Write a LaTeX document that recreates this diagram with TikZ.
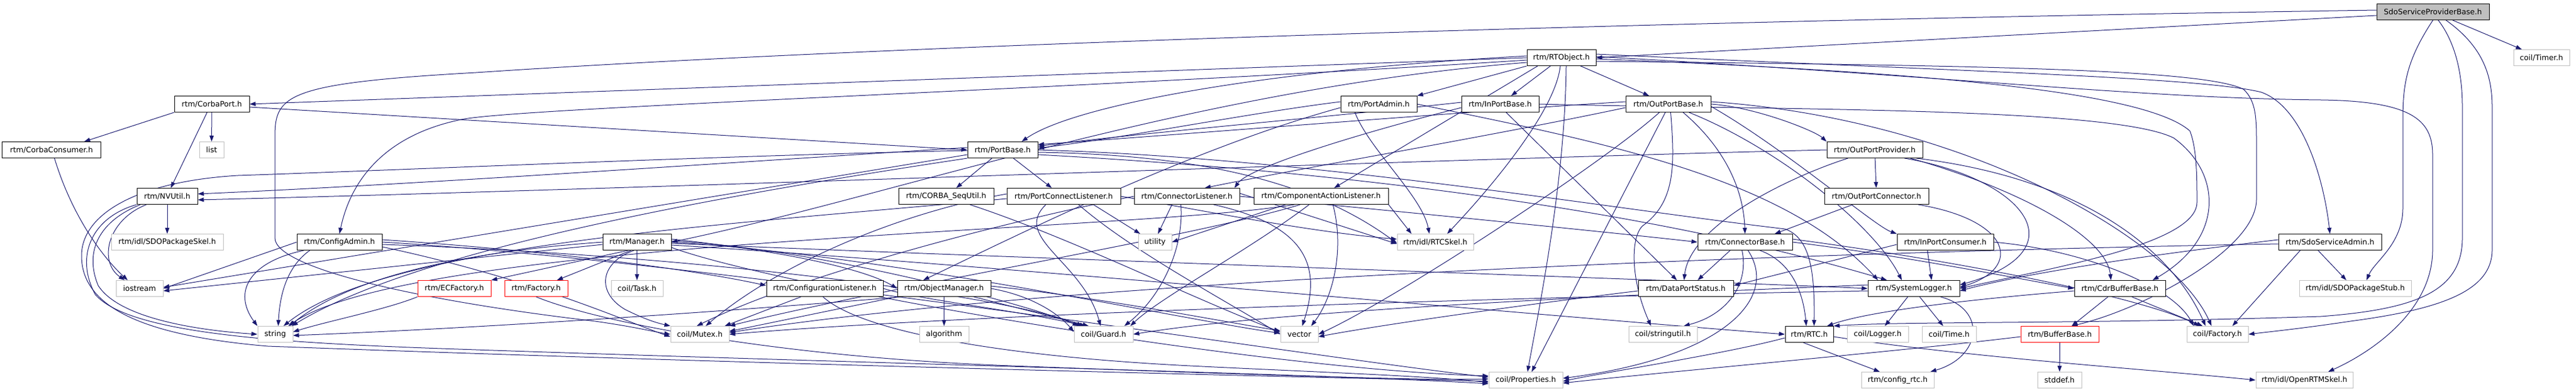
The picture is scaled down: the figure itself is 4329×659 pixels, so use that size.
\documentclass[tikz,border=0pt]{standalone}
\usepackage{fontspec}
\setmainfont{DejaVu Sans}
\usetikzlibrary{arrows.meta}
\definecolor{edgec}{HTML}{191970}
\definecolor{extc}{HTML}{BFBFBF}
\pgfdeclarelayer{bg}
\pgfsetlayers{bg,main}
\begin{document}
\begin{tikzpicture}[x=1bp,y=-1bp,
  box/.style={draw=black, line width=1bp, fill=white, minimum height=27bp, inner sep=1bp, font=\fontsize{12.6bp}{15bp}\selectfont, text=black},
  ext/.style={box, draw=extc},
  trunc/.style={box, draw=red},
  root/.style={box, fill=extc},
  dep/.style={draw=edgec, line width=1bp, -{Triangle[length=10bp,width=7bp]}}
]
\useasboundingbox (0,0) rectangle (4329,659);
% row 0
\node[root, minimum width=189bp] (sdo) at (4088.5,20) {SdoServiceProviderBase.h};
% row 1
\node[box, minimum width=116bp] (rtobj) at (2624,97) {rtm/RTObject.h};
\node[ext, minimum width=94bp] (timer) at (4271,97) {coil/Timer.h};
% row 2
\node[box, minimum width=126bp] (corbaport) at (356,175) {rtm/CorbaPort.h};
\node[box, minimum width=128bp] (portadmin) at (2317,175) {rtm/PortAdmin.h};
\node[box, minimum width=130bp] (inportbase) at (2521,175) {rtm/InPortBase.h};
\node[box, minimum width=143bp] (outportbase) at (2803.5,175) {rtm/OutPortBase.h};
% row 3
\node[box, minimum width=165bp] (corbaconsumer) at (86.5,252) {rtm/CorbaConsumer.h};
\node[ext, minimum width=41bp] (list) at (355.5,252) {list};
\node[box, minimum width=118bp] (portbase) at (1685,252) {rtm/PortBase.h};
\node[box, minimum width=161bp] (outportprovider) at (3150.5,252) {rtm/OutPortProvider.h};
% row 4
\node[box, minimum width=102bp] (nvutil) at (281,330) {rtm/NVUtil.h};
\node[box, minimum width=160bp] (sequtil) at (1590,330) {rtm/CORBA\_SeqUtil.h};
\node[box, minimum width=191bp] (pcl) at (1787.5,330) {rtm/PortConnectListener.h};
\node[box, minimum width=177bp] (cl) at (1994.5,330) {rtm/ConnectorListener.h};
\node[box, minimum width=226bp] (cal) at (2220,330) {rtm/ComponentActionListener.h};
\node[box, minimum width=175bp] (outportconnector) at (3153.5,330) {rtm/OutPortConnector.h};
% row 5
\node[ext, minimum width=188bp] (sdopkgskel) at (281,407) {rtm/idl/SDOPackageSkel.h};
\node[box, minimum width=143bp] (configadmin) at (570.5,407) {rtm/ConfigAdmin.h};
\node[box, minimum width=115bp] (manager) at (1070.5,407) {rtm/Manager.h};
\node[ext, minimum width=56bp] (utility) at (1941,407) {utility};
\node[ext, minimum width=128bp] (rtcskel) at (2412,407) {rtm/idl/RTCSkel.h};
\node[box, minimum width=159bp] (connectorbase) at (2932.5,407) {rtm/ConnectorBase.h};
\node[box, minimum width=162bp] (inportconsumer) at (3269,407) {rtm/InPortConsumer.h};
\node[box, minimum width=173bp] (sdoserviceadmin) at (3915.5,407) {rtm/SdoServiceAdmin.h};
% row 6
\node[ext, minimum width=79bp] (iostream) at (234.5,485) {iostream};
\node[trunc, minimum width=123bp] (ecfactory) at (763.5,485) {rtm/ECFactory.h};
\node[trunc, minimum width=106bp] (factory) at (901,485) {rtm/Factory.h};
\node[ext, minimum width=87bp] (task) at (1070.5,485) {coil/Task.h};
\node[box, minimum width=196bp] (conflistener) at (1386,485) {rtm/ConfigurationListener.h};
\node[box, minimum width=157bp] (objmanager) at (1586.5,485) {rtm/ObjectManager.h};
\node[box, minimum width=160bp] (dataportstatus) at (2833,485) {rtm/DataPortStatus.h};
\node[box, minimum width=154bp] (systemlogger) at (3216,485) {rtm/SystemLogger.h};
\node[box, minimum width=153bp] (cdrbufferbase) at (3562.5,485) {rtm/CdrBufferBase.h};
\node[ext, minimum width=188bp] (sdopkgstub) at (3958,485) {rtm/idl/SDOPackageStub.h};
% row 7
\node[ext, minimum width=59bp] (string) at (462.5,562) {string};
\node[ext, minimum width=98bp] (mutex) at (1176,562) {coil/Mutex.h};
\node[ext, minimum width=83bp] (algorithm) at (1586.5,562) {algorithm};
\node[ext, minimum width=99bp] (guard) at (1854.5,562) {coil/Guard.h};
\node[ext, minimum width=63bp] (vector) at (2183.5,562) {vector};
\node[ext, minimum width=115bp] (stringutil) at (2794.5,562) {coil/stringutil.h};
\node[box, minimum width=81bp] (rtc) at (3040.5,562) {rtm/RTC.h};
\node[ext, minimum width=103bp] (logger) at (3155.5,562) {coil/Logger.h};
\node[ext, minimum width=91bp] (time) at (3275.5,562) {coil/Time.h};
\node[trunc, minimum width=131bp] (bufferbase) at (3461.5,562) {rtm/BufferBase.h};
\node[ext, minimum width=103bp] (coilfactory) at (3726.5,562) {coil/Factory.h};
% row 8
\node[ext, minimum width=124bp] (properties) at (2564,639) {coil/Properties.h};
\node[ext, minimum width=122bp] (configrtc) at (3189,639) {rtm/config\_rtc.h};
\node[ext, minimum width=74bp] (stddef) at (3461,639) {stddef.h};
\node[ext, minimum width=163bp] (openrtmskel) at (3872.5,639) {rtm/idl/OpenRTMSkel.h};

\begin{pgfonlayer}{bg}
% sdo
\draw[dep] (sdo) -- (timer);
\draw[dep] ([yshift=-6]sdo.west) -- (rtobj.east);
\draw[dep] ([yshift=3]sdo.west) .. controls (2800,35) and (1500,75) .. (800,122) .. controls (480,140) and (462,160) .. (462,230) -- (462,400) .. controls (462,450) and (700,505) .. (1000,540) .. controls (1070,550) and (1100,558) .. (mutex.west);
\draw[dep] (sdo.south) .. controls (4045,100) and (4038,140) .. (4038,200) -- (4038,350) .. controls (4038,410) and (3990,440) .. ([xshift=19bp]sdopkgstub.north);
\draw[dep] ([xshift=9bp]sdo.south) .. controls (4125,70) and (4138,120) .. (4138,180) -- (4138,400) .. controls (4138,490) and (4060,520) .. (3900,532) .. controls (3500,545) and (3200,540) .. (rtc.north east);
\draw[dep] ([xshift=22bp]sdo.south) .. controls (4175,80) and (4188,130) .. (4188,180) -- (4188,420) .. controls (4188,490) and (4100,520) .. (3950,540) .. controls (3870,552) and (3820,557) .. (coilfactory.east);
% rtobj
\draw[dep] (rtobj.west) -- (corbaport.east);
\draw[dep] ([yshift=-4bp]rtobj.west) .. controls (1800,150) and (900,180) .. (780,200) .. controls (650,225) and (590,300) .. (configadmin.north);
\draw[dep] (rtobj.south west) -- (portadmin.north east);
\draw[dep] (rtobj) -- (inportbase);
\draw[dep] (rtobj) -- (outportbase);
\draw[dep] ([xshift=-2bp]rtobj.south) .. controls (2615,180) and (2520,300) .. ([xshift=20bp]rtcskel.north);
\draw[dep] ([xshift=8bp]rtobj.south) .. controls (2630,300) and (2590,500) .. ([xshift=3bp]properties.north);
\draw[dep] ([yshift=3bp]rtobj.west) .. controls (2100,120) and (1800,180) .. ([xshift=32bp]portbase.north);
\draw[dep] ([xshift=-40bp]rtobj.south) -- ([xshift=22bp]cal.north);
\draw[dep] ([yshift=6bp]rtobj.east) .. controls (3300,120) and (3700,130) .. (3800,155) .. controls (3870,180) and (3905,300) .. (sdoserviceadmin.north);
\draw[dep] ([yshift=2bp]rtobj.east) .. controls (3300,130) and (3600,165) .. (3900,168) .. controls (4050,170) and (4088,200) .. (4088,260) -- (4088,420) .. controls (4088,520) and (3990,590) .. ([xshift=40bp]openrtmskel.north);
\draw[dep] ([yshift=-2bp]rtobj.east) .. controls (3200,120) and (3600,150) .. (3680,220) .. controls (3692,250) and (3692,300) .. (3692,340) .. controls (3692,410) and (3450,450) .. (systemlogger.east);
\draw[dep] ([yshift=-6bp]rtobj.east) .. controls (3300,110) and (3700,115) .. (3770,150) .. controls (3792,170) and (3792,200) .. (3792,245) -- (3792,335) .. controls (3792,420) and (3600,520) .. ([xshift=20bp]bufferbase.north);
\draw[dep] ([yshift=-8bp]rtobj.west) .. controls (2000,150) and (1500,330) .. (manager.east);
% corbaport
\draw[dep] (corbaport.south west) -- ([xshift=55bp]corbaconsumer.north);
\draw[dep] (corbaport) -- (list);
\draw[dep] ([xshift=-8bp]corbaport.south) -- ([xshift=6bp]nvutil.north);
\draw[dep] ([yshift=-5bp]corbaport.east) -- (portbase.west);
% corbaconsumer
\draw[dep] ([xshift=5bp]corbaconsumer.south) .. controls (120,360) and (170,430) .. ([xshift=-20bp]iostream.north);
% nvutil
\draw[dep] (nvutil) -- (sdopkgskel);
\draw[dep] ([xshift=-35bp]nvutil.south) .. controls (180,370) and (165,440) .. ([xshift=-25bp]iostream.north);
\draw[dep] ([xshift=-45bp]nvutil.south) .. controls (170,370) and (140,420) .. (165,480) .. controls (200,535) and (330,555) .. (string.west);
\draw[dep] (nvutil.south west) .. controls (155,365) and (125,430) .. (160,495) .. controls (220,565) and (500,578) .. (800,588) .. controls (1500,612) and (2200,628) .. ([yshift=-6bp]properties.west);
% portbase
\draw[dep] ([yshift=4bp]portbase.west) .. controls (1200,275) and (700,310) .. ([yshift=4bp]nvutil.east);
\draw[dep] ([yshift=-1bp]portbase.west) .. controls (1200,262) and (700,285) .. (400,295) .. controls (230,305) and (137,360) .. (137,430) .. controls (137,520) and (250,565) .. (450,582) .. controls (1200,610) and (2100,632) .. ([yshift=-2bp]properties.west);
\draw[dep] ([xshift=-18bp]portbase.south) -- ([xshift=17bp]sequtil.north);
\draw[dep] ([xshift=18bp]portbase.south) -- ([xshift=-20bp]pcl.north);
\draw[dep] ([yshift=-8bp]portbase.west) -- ([yshift=2bp]iostream.east);
\draw[dep] (portbase.south west) .. controls (1200,330) and (700,420) .. ([xshift=-2bp]string.north east);
\draw[dep] ([yshift=-4bp]portbase.east) .. controls (2000,260) and (2200,300) .. ([yshift=-2bp]rtcskel.west);
\draw[dep] (portbase.east) .. controls (2200,265) and (2700,350) .. (3000,385) .. controls (3040,400) and (3050,450) .. ([xshift=8bp]rtc.north);
\draw[dep] ([yshift=-8bp]portbase.east) .. controls (2300,290) and (2800,360) .. ([xshift=-45bp]systemlogger.north);
% portadmin
\draw[dep] ([yshift=4bp]portadmin.west) .. controls (2100,190) and (1900,230) .. ([yshift=3bp]portbase.east);
\draw[dep] ([xshift=-40bp]portadmin.south) .. controls (2300,250) and (2390,330) .. ([xshift=-10bp]rtcskel.north);
\draw[dep] (portadmin.east) .. controls (2700,240) and (3000,300) .. ([xshift=-60bp]systemlogger.north);
\draw[dep] ([yshift=-6bp]portadmin.west) .. controls (2000,250) and (1700,400) .. ([xshift=-35bp]objmanager.north);
% inportbase
\draw[dep] ([yshift=3bp]inportbase.west) .. controls (2200,200) and (1900,225) .. ([yshift=6bp]portbase.east);
\draw[dep] ([yshift=-6bp]inportbase.west) .. controls (2300,220) and (2100,280) .. ([xshift=80bp]cl.north);
\draw[dep] ([xshift=10bp]inportbase.south) -- ([xshift=-15bp]dataportstatus.north);
\draw[dep] (inportbase.east) .. controls (3000,185) and (3550,180) .. (3653,232) .. controls (3733,290) and (3740,400) .. ([xshift=55bp]cdrbufferbase.north);
% outportbase
\draw[dep] ([yshift=4bp]outportbase.west) .. controls (2500,185) and (2000,225) .. ([yshift=9bp]portbase.east);
\draw[dep] ([yshift=-6bp]outportbase.west) .. controls (2500,230) and (2200,280) .. ([xshift=30bp]cl.north);
\draw[dep] ([xshift=-15bp]outportbase.south) .. controls (2700,270) and (2350,500) .. (vector.east);
\draw[dep] ([xshift=-5bp]outportbase.south) -- ([xshift=10bp]properties.north);
\draw[dep] ([xshift=4bp]outportbase.south) .. controls (2815,280) and (2815,340) .. (2760,380) .. controls (2740,400) and (2740,470) .. ([xshift=-20bp]stringutil.north);
\draw[dep] ([xshift=25bp]outportbase.south) .. controls (2900,250) and (2930,320) .. (connectorbase.north);
\draw[dep] ([xshift=35bp]outportbase.south) .. controls (2990,250) and (3150,380) .. ([xshift=-20bp]systemlogger.north);
\draw[dep] (outportbase.east) .. controls (2950,180) and (3050,220) .. (outportprovider.north west);
\draw[dep] ([yshift=-4bp]outportbase.east) .. controls (3000,250) and (3150,380) .. (inportconsumer.north west);
\draw[dep] ([yshift=4bp]outportbase.east) .. controls (3300,200) and (3650,400) .. ([xshift=-10bp]coilfactory.north);
% outportprovider
\draw[dep] (outportprovider) -- (outportconnector);
\draw[dep] (outportprovider.west) .. controls (2500,265) and (1000,320) .. ([yshift=-6bp]nvutil.east);
\draw[dep] ([xshift=-45bp]outportprovider.south) .. controls (3000,300) and (2840,380) .. ([xshift=-3bp]dataportstatus.north);
\draw[dep] ([xshift=50bp]outportprovider.south) .. controls (3400,300) and (3500,420) .. ([yshift=6bp]systemlogger.east);
\draw[dep] ([xshift=60bp]outportprovider.south) .. controls (3400,320) and (3540,400) .. ([xshift=-15bp]cdrbufferbase.north);
\draw[dep] ([xshift=70bp]outportprovider.south) .. controls (3500,300) and (3650,420) .. ([xshift=-20bp]coilfactory.north);
% outportconnector
\draw[dep] ([xshift=-40bp]outportconnector.south) -- ([xshift=50bp]connectorbase.north);
\draw[dep] ([xshift=70bp]outportconnector.south) .. controls (3380,370) and (3400,450) .. ([yshift=2bp]systemlogger.east);
% inportconsumer
\draw[dep] ([yshift=-4bp]inportconsumer.west) -- ([yshift=5bp]dataportstatus.east);
\draw[dep] (inportconsumer.east) .. controls (3500,420) and (3650,480) .. ([xshift=-40bp]coilfactory.north);
\draw[dep] ([xshift=-30bp]inportconsumer.south) -- ([xshift=30bp]systemlogger.north);
% connectorbase
\draw[dep] ([xshift=-25bp]connectorbase.south) -- ([xshift=20bp]dataportstatus.north);
\draw[dep] ([xshift=-5bp]connectorbase.south) .. controls (2940,480) and (2900,530) .. ([xshift=35bp]stringutil.north);
\draw[dep] ([xshift=5bp]connectorbase.south) .. controls (2990,500) and (2900,600) .. ([yshift=3bp]properties.east);
\draw[dep] ([xshift=25bp]connectorbase.south) .. controls (3010,440) and (3030,490) .. ([xshift=-5bp]rtc.north);
\draw[dep] (connectorbase.east) .. controls (3200,430) and (3400,470) .. (cdrbufferbase.west);
\draw[dep] ([yshift=5bp]connectorbase.east) .. controls (3300,440) and (3600,500) .. ([xshift=-30bp]coilfactory.north);
% dataportstatus
\draw[dep] ([yshift=-4bp]dataportstatus.west) .. controls (2500,520) and (2300,550) .. ([yshift=-4bp]vector.east);
% systemlogger
\draw[dep] ([xshift=-10bp]systemlogger.south) -- ([xshift=12bp]logger.north);
\draw[dep] ([xshift=10bp]systemlogger.south) -- ([xshift=-10bp]time.north);
\draw[dep] ([xshift=45bp]systemlogger.south) .. controls (3340,520) and (3330,600) .. ([xshift=55bp]configrtc.north);
\draw[dep] ([yshift=-4bp]systemlogger.west) .. controls (2500,500) and (1600,530) .. (mutex.east);
\draw[dep] ([yshift=6bp]systemlogger.west) .. controls (2500,505) and (2100,530) .. (guard.east);
% rtc
\draw[dep] ([xshift=-10bp]rtc.south) -- ([xshift=-30bp]configrtc.north);
\draw[dep] ([yshift=-4bp]rtc.east) .. controls (3300,600) and (3600,620) .. (openrtmskel.west);
\draw[dep] ([yshift=-6bp]rtc.west) .. controls (2900,595) and (2700,625) .. ([yshift=-2bp]properties.east);
% bufferbase
\draw[dep] (bufferbase) -- (stddef);
\draw[dep] ([yshift=-4bp]bufferbase.west) .. controls (3200,590) and (2800,625) .. ([yshift=-5bp]properties.east);
% cdrbufferbase
\draw[dep] ([xshift=-20bp]cdrbufferbase.south) -- ([xshift=20bp]bufferbase.north);
\draw[dep] ([xshift=20bp]cdrbufferbase.south) -- ([xshift=-25bp]coilfactory.north);
\draw[dep] ([yshift=-4bp]cdrbufferbase.west) .. controls (3350,500) and (3150,520) .. ([xshift=30bp]rtc.north);
% sdoserviceadmin
\draw[dep] ([xshift=-20bp]sdoserviceadmin.south) -- ([xshift=-15bp]sdopkgstub.north);
\draw[dep] ([xshift=-50bp]sdoserviceadmin.south) -- ([xshift=25bp]coilfactory.north);
\draw[dep] ([yshift=4bp]sdoserviceadmin.west) .. controls (3600,430) and (3400,460) .. ([yshift=-4bp]systemlogger.east);
\draw[dep] ([yshift=-3bp]sdoserviceadmin.west) .. controls (3000,425) and (1800,470) .. ([yshift=3bp]mutex.east);
% pcl
\draw[dep] ([xshift=50bp]pcl.south) -- ([xshift=-25bp]utility.north);
\draw[dep] ([xshift=-30bp]pcl.south) .. controls (1700,400) and (1820,440) .. ([xshift=-5bp]guard.north);
\draw[dep] ([xshift=25bp]pcl.south) .. controls (1900,420) and (2050,500) .. (vector.west);
\draw[dep] ([yshift=4bp]pcl.west) .. controls (1500,360) and (1300,450) .. ([xshift=10bp]mutex.north);
\draw[dep] ([yshift=-4bp]pcl.west) .. controls (1200,380) and (650,410) .. ([xshift=14bp]string.north);
\draw[dep] (pcl.east) .. controls (2000,350) and (2200,390) .. ([yshift=5bp]rtcskel.west);
% cl
\draw[dep] ([xshift=-25bp]cl.south) -- ([xshift=5bp]utility.north);
\draw[dep] ([xshift=-10bp]cl.south) .. controls (1990,420) and (1950,500) .. ([xshift=35bp]guard.north);
\draw[dep] ([xshift=45bp]cl.south) .. controls (2200,380) and (2220,450) .. ([xshift=5bp]vector.north);
\draw[dep] (cl.west) .. controls (1700,370) and (1350,460) .. ([xshift=-5bp]mutex.north);
\draw[dep] (cl.east) .. controls (2400,360) and (2700,390) .. (connectorbase.west);
\draw[dep] ([yshift=5bp]cl.east) -- ([yshift=-3bp]rtcskel.west);
% cal
\draw[dep] ([xshift=-60bp]cal.south) -- (utility.east);
\draw[dep] ([xshift=-20bp]cal.south) .. controls (2100,420) and (1950,500) .. ([xshift=45bp]guard.north);
\draw[dep] ([xshift=20bp]cal.south) .. controls (2260,420) and (2240,500) .. ([xshift=20bp]vector.north);
\draw[dep] (cal.south east) -- ([xshift=-40bp]rtcskel.north);
\draw[dep] ([xshift=-35bp]cal.south) .. controls (2000,400) and (1500,480) .. (mutex.north east);
\draw[dep] ([xshift=-45bp]cal.south) .. controls (1900,390) and (700,400) .. ([xshift=22bp]string.north);
% sequtil
\draw[dep] ([xshift=40bp]sequtil.south) .. controls (1800,400) and (2000,500) .. ([yshift=4bp]vector.west);
% configadmin
\draw[dep] ([xshift=-60bp]configadmin.south) .. controls (420,440) and (390,490) .. (string.north west);
\draw[dep] ([xshift=-50bp]configadmin.south) .. controls (480,450) and (470,500) .. ([xshift=5bp]string.north);
\draw[dep] (configadmin.west) -- (iostream.east);
\draw[dep] ([yshift=4bp]configadmin.east) .. controls (900,420) and (1150,450) .. ([yshift=5bp]conflistener.west);
\draw[dep] (configadmin.east) .. controls (1200,440) and (2200,600) .. ([yshift=5bp]properties.west);
\draw[dep] ([yshift=-8bp]configadmin.east) .. controls (900,470) and (1050,540) .. ([yshift=-4bp]mutex.west);
\draw[dep] ([yshift=-4bp]configadmin.east) .. controls (1200,430) and (1700,500) .. ([xshift=-35bp]guard.north);
% manager
\draw[dep] ([xshift=-15bp]manager.south) -- (ecfactory.north east);
\draw[dep] ([xshift=-10bp]manager.south) -- ([xshift=35bp]factory.north);
\draw[dep] (manager) -- (task);
\draw[dep] ([xshift=-5bp]manager.south) .. controls (1010,440) and (1000,490) .. (1050,520) .. controls (1080,535) and (1100,542) .. (mutex.north west);
\draw[dep] (manager.west) .. controls (900,415) and (620,440) .. ([xshift=-6bp]string.north east);
\draw[dep] ([yshift=-4bp]manager.west) -- ([yshift=-4bp]iostream.east);
\draw[dep] ([yshift=5bp]manager.east) .. controls (1300,420) and (1450,450) .. (objmanager.west);
\draw[dep] ([yshift=2bp]manager.east) .. controls (1400,420) and (1750,520) .. ([xshift=-42bp]guard.north);
\draw[dep] (manager.east) .. controls (1500,430) and (2000,540) .. ([yshift=2bp]vector.west);
\draw[dep] ([yshift=-2bp]manager.east) .. controls (1600,430) and (2800,470) .. (systemlogger.west);
\draw[dep] ([yshift=-5bp]manager.east) .. controls (1600,440) and (2700,540) .. (rtc.west);
\draw[dep] ([yshift=-9bp]manager.east) .. controls (1300,480) and (2100,620) .. ([yshift=7bp]properties.west);
% ecfactory, factory
\draw[dep] (ecfactory.south west) .. controls (650,520) and (550,540) .. ([yshift=4bp]string.east);
\draw[dep] (factory.south) .. controls (1000,540) and (1300,600) .. (1700,615) .. controls (2100,630) and (2400,640) .. ([yshift=2bp]properties.west);
% conflistener
\draw[dep] ([xshift=-40bp]conflistener.south) -- ([xshift=42bp]mutex.north);
\draw[dep] ([xshift=-3bp]conflistener.south) .. controls (1450,560) and (1700,600) .. (2000,615) .. controls (2200,625) and (2400,632) .. ([yshift=-4bp]properties.west);
\draw[dep] (conflistener.east) .. controls (1550,505) and (1700,520) .. ([xshift=-30bp]guard.north);
% objmanager
\draw[dep] (objmanager) -- (algorithm);
\draw[dep] ([xshift=50bp]objmanager.south) -- ([xshift=-25bp]guard.north);
\draw[dep] (objmanager.east) .. controls (1750,500) and (1790,540) .. ([yshift=4bp]guard.west);
\draw[dep] (objmanager.south west) -- ([yshift=5bp]mutex.east);
\draw[dep] ([yshift=4bp]objmanager.east) .. controls (1850,500) and (2050,540) .. ([yshift=6bp]vector.west);
\draw[dep] ([xshift=10bp]objmanager.south west) .. controls (1200,525) and (800,552) .. ([yshift=-2bp]string.east);
\end{pgfonlayer}
\end{tikzpicture}
\end{document}
